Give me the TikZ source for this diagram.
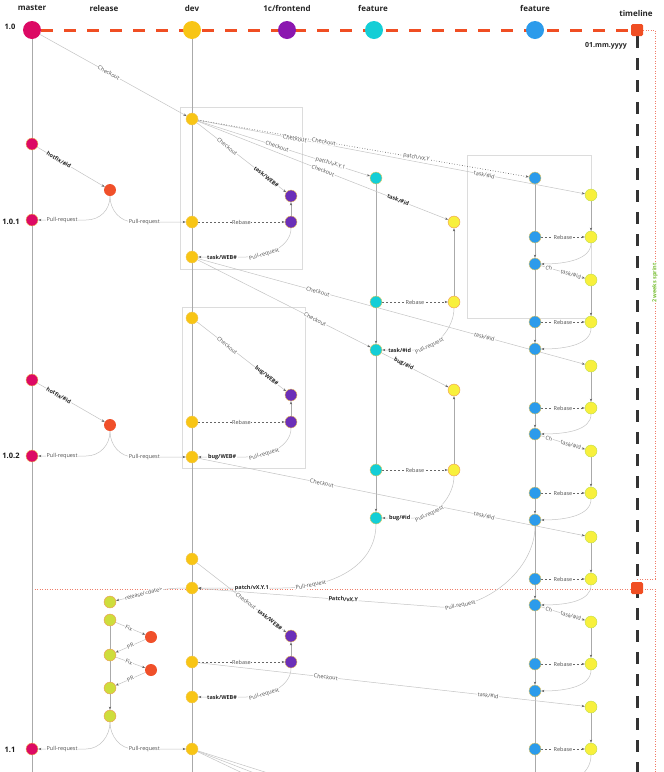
\documentclass[tikz,border=0pt]{standalone}
\usepackage{fontspec}
\setmainfont{Open Sans}
\usetikzlibrary{arrows.meta}
\pgfdeclarelayer{bg}
\pgfsetlayers{bg,main}
\definecolor{cmaster}{RGB}{220,10,100}
\definecolor{cdev}{RGB}{248,197,21}
\definecolor{cfront}{RGB}{139,23,176}
\definecolor{cpurple}{RGB}{107,47,184}
\definecolor{ccyan}{RGB}{20,206,214}
\definecolor{cblue}{RGB}{44,155,235}
\definecolor{cyel}{RGB}{248,240,60}
\definecolor{crel}{RGB}{240,80,42}
\definecolor{clime}{RGB}{206,221,60}
\definecolor{csq}{RGB}{240,78,35}
\definecolor{cline}{RGB}{195,195,195}
\definecolor{cvert}{RGB}{170,170,170}
\definecolor{ctxt}{RGB}{80,80,80}
\definecolor{cpink}{RGB}{240,125,105}
\definecolor{cgreen}{RGB}{120,190,50}
\definecolor{cbord}{RGB}{240,200,90}
\definecolor{cborl}{RGB}{190,220,80}
\definecolor{cboro}{RGB}{240,150,90}
\definecolor{cbox}{RGB}{220,220,220}
\begin{document}
\begin{tikzpicture}[x=1pt,y=-1pt,
  bignode/.style={circle,minimum size=18pt,inner sep=0pt},
  commit/.style={circle,minimum size=12pt,inner sep=0pt,line width=0.4pt,draw=cbord},
  sqnode/.style={rectangle,rounded corners=1.5pt,minimum size=12pt,inner sep=0pt,fill=csq},
  hdr/.style={font=\bfseries\fontsize{8}{9}\selectfont,text=black!85},
  vertxt/.style={font=\bfseries\fontsize{7.5}{9}\selectfont,text=black!90},
  lbl/.style={font=\fontsize{5.5}{6}\selectfont,text=ctxt,fill=white,inner sep=0.6pt,sloped},
  blbl/.style={lbl,font=\bfseries\fontsize{5.5}{6}\selectfont,text=black!85},
  ln/.style={draw=cline,line width=0.5pt},
  ar/.style={-{Stealth[length=3.2pt,width=2.4pt,color=black!60]}},
  vl/.style={draw=cvert,line width=0.6pt},
  reb/.style={draw=black!60,line width=0.5pt,dash pattern=on 2pt off 2pt,ar},
  boxc/.style={draw=cbox,line width=0.7pt},
  pinkdot/.style={draw=cpink,line width=0.7pt,dash pattern=on 1pt off 1.5pt},
]
\useasboundingbox (0,0) rectangle (664,772);

% headers
\node[hdr] (hm) at (32,8) {master};
\node[hdr] (hr) at (104,8) {release};
\node[hdr] (hd) at (192,8) {dev};
\node[hdr] (hf) at (287,8) {1c/frontend};
\node[hdr] (hc) at (373,8) {feature};
\node[hdr] (hb) at (535,8) {feature};
\node[hdr] (ht) at (636,13) {timeline};
\node[vertxt] (v0) at (10,27) {1.0};
\node[vertxt] (v1) at (11,222) {1.0.1};
\node[vertxt] (v2) at (11,456) {1.0.2};
\node[vertxt] (v3) at (10,750) {1.1};
\node[hdr,font=\bfseries\fontsize{7}{8}\selectfont] (dt) at (606,46) {01.mm.yyyy};
\node[rotate=90,font=\bfseries\fontsize{5.5}{6}\selectfont,text=cgreen,fill=white,inner sep=0.5pt] (sp) at (655,283) {2 weeks sprint};

% top nodes
\node[bignode,fill=cmaster] (M0) at (32,30) {};
\node[bignode,fill=cdev] (D0) at (192,30) {};
\node[bignode,fill=cfront] (F0) at (287,30) {};
\node[bignode,fill=ccyan] (C0) at (374,30) {};
\node[bignode,fill=cblue] (B0) at (535,30) {};
\node[sqnode] (T0) at (637,30) {};
\node[sqnode] (T1) at (637,588) {};

\foreach \n/\y in {M1/144,M2/220,M3/380,M4/456,M5/749}
  \node[commit,fill=cmaster] (\n) at (32,\y) {};
\foreach \n/\y in {D1/119,D2/222,D3/257,D4/318,D5/422,D6/457,D7/559,D8/588,D9/662,D10/697,D11/749}
  \node[commit,fill=cdev] (\n) at (192,\y) {};
\node[commit,fill=crel,draw=none] (R1) at (110,190) {};
\node[commit,fill=crel,draw=none] (R2) at (110,425) {};
\foreach \n/\y in {L1/602,L2/620,L3/655,L4/688,L5/716}
  \node[commit,fill=clime,draw=cboro] (\n) at (110,\y) {};
\node[commit,fill=crel,draw=none] (X1) at (151,637) {};
\node[commit,fill=crel,draw=none] (X2) at (151,670) {};
\foreach \n/\y in {P1/196,P2/222,P3/395,P4/422,P5/636,P6/662}
  \node[commit,fill=cpurple] (\n) at (291,\y) {};
\foreach \n/\y in {C1/178,C2/302,C3/350,C4/470,C5/518}
  \node[commit,fill=ccyan] (\n) at (376,\y) {};
\foreach \n/\y in {Y1/222,Y2/302,Y3/390,Y4/470}
  \node[commit,fill=cyel,draw=cboro] (\n) at (454,\y) {};
\foreach \n/\y in {B1/178,B2/237,B3/264,B4/322,B5/349,B6/408,B7/434,B8/493,B9/520,B10/579,B11/605,B12/664,B13/691,B14/749}
  \node[commit,fill=cblue] (\n) at (535,\y) {};
\foreach \n/\y in {Z1/195,Z2/237,Z3/280,Z4/322,Z5/366,Z6/408,Z7/451,Z8/493,Z9/537,Z10/579,Z11/622,Z12/664,Z13/707,Z14/749}
  \node[commit,fill=cyel,draw=cborl] (\n) at (591,\y) {};

\begin{pgfonlayer}{bg}
% boxes
\draw[boxc] (180,107) rectangle (302,269);
\draw[boxc] (182,307) rectangle (305,468);
\draw[boxc] (467,155) rectangle (591,318);
% sprint frames
\draw[pinkdot] (T0.east) -- (655,30) -- (655,579) -- (637,579);
\draw[pinkdot] (32,589) -- (655,589) -- (655,772);
% top and timeline
\draw[csq,line width=3pt,dash pattern=on 12pt off 11pt] (M0) -- (T0);
\draw[black!80,line width=3pt,dash pattern=on 12pt off 10pt] (T0) -- (637,772);
% verticals
\draw[vl] (M0) -- (32,772);
\draw[vl] (D0) -- (192,772);
\draw[vl] (C1) -- (C2);
\draw[vl,ar] (C2) -- (C3);
\draw[vl] (C3) -- (C4);
\draw[vl,ar] (C4) -- (C5);
\draw[vl,ar] (Y2) -- (Y1);
\draw[vl,ar] (Y4) -- (Y3);
\draw[vl,ar] (P2) -- (P1);
\draw[vl,ar] (P4) -- (P3);
\draw[vl,ar] (P6) -- (P5);
\draw[vl] (L2) -- (L3);
\draw[vl] (L3) -- (L4);
\draw[vl,ar] (L4) -- (L5);
\draw[vl] (B1) -- (B2);
\foreach \a/\b in {B3/B4,B5/B6,B7/B8,B9/B10,B11/B12,B13/B14}
  \draw[vl] (\a) -- (\b);
\foreach \a/\b in {B2/B3,B4/B5,B6/B7,B8/B9,B10/B11,B12/B13}
  \draw[vl,ar] (\a) -- (\b);
\draw[vl] (B14) -- (535,772);
\foreach \a/\b in {Z1/Z2,Z3/Z4,Z5/Z6,Z7/Z8,Z9/Z10,Z11/Z12,Z13/Z14}
  \draw[vl,ar] (\a) -- (\b);

% checkouts from dev 1
\draw[ln,ar] (M0) -- node[lbl,pos=0.47]{Checkout} (D1);
\draw[ln,ar] (D1) -- node[lbl,pos=0.34]{Checkout} node[blbl,pos=0.78]{task/WEB\#} (P1);
\draw[ln,ar] (D1) -- node[lbl,pos=0.46]{Checkout} node[lbl,pos=0.77]{patch/vX.Y.1} (C1);
\draw[ln,ar] (D1) -- node[lbl,pos=0.5]{Checkout} node[blbl,pos=0.8]{task/\#id} (Y1);
\draw[ln,ar] (D1) -- node[lbl,pos=0.25]{Checkout} node[lbl,pos=0.74]{task/\#id} (Z1);
\draw[black!75,line width=0.6pt,dotted,ar] (D1) -- node[lbl,pos=0.38]{Checkout} node[lbl,pos=0.66]{patch/vX.Y} (B1);

% frontend task 1
\draw[reb] (D2) -- node[lbl]{Rebase} (P2);
\draw[ln,ar] (P2) .. controls +(0,24) and +(22,0) .. node[lbl,pos=0.72]{Pull-request} (246,257) -- node[blbl,pos=0.5]{task/WEB\#} (D3);

% hotfix 1
\draw[ln,ar] (M1) -- node[blbl,pos=0.32]{hotfix/\#id} (R1);
\draw[ln,ar] (R1) .. controls +(0,20) and +(14,0) .. (86,220) -- node[lbl]{Pull-request} (M2);
\draw[ln,ar] (R1) .. controls +(0,20) and +(-14,0) .. (134,222) -- node[lbl,pos=0.2]{Pull-request} (D2);

% checkouts from dev 3
\draw[ln,ar] (D3) -- node[lbl,pos=0.31]{Checkout} node[lbl,pos=0.74]{task/\#id} (Z5);
\draw[ln,ar] (D3) -- node[lbl,pos=0.68]{Checkout} (C3);
\draw[reb] (C2) -- node[lbl]{Rebase} (Y2);
\draw[ln,ar] (Y2) .. controls +(0,26) and +(22,0) .. node[lbl,pos=0.75]{Pull-request} (414,350) -- node[blbl,pos=0.45]{task/\#id} (C3);
\draw[ln,ar] (C3) -- node[blbl,pos=0.33]{bug/\#id} (Y3);

% frontend bug
\draw[ln,ar] (D4) -- node[lbl,pos=0.34]{Checkout} node[blbl,pos=0.78]{bug/WEB\#} (P3);
\draw[reb] (D5) -- node[lbl]{Rebase} (P4);
\draw[ln,ar] (P4) .. controls +(0,24) and +(22,0) .. node[lbl,pos=0.72]{Pull-request} (246,457) -- node[blbl,pos=0.5]{bug/WEB\#} (D6);

% hotfix 2
\draw[ln,ar] (M3) -- node[blbl,pos=0.32]{hotfix/\#id} (R2);
\draw[ln,ar] (R2) .. controls +(0,20) and +(14,0) .. (86,456) -- node[lbl]{Pull-request} (M4);
\draw[ln,ar] (R2) .. controls +(0,20) and +(-14,0) .. (134,457) -- node[lbl,pos=0.2]{Pull-request} (D6);

% checkout from dev 6
\draw[ln,ar] (D6) -- node[lbl,pos=0.32]{Checkout} node[lbl,pos=0.74]{task/\#id} (Z9);
\draw[reb] (C4) -- node[lbl]{Rebase} (Y4);
\draw[ln,ar] (Y4) .. controls +(0,26) and +(22,0) .. node[lbl,pos=0.75]{Pull-request} (414,518) -- node[blbl,pos=0.45]{bug/\#id} (C5);

% patches into dev
\draw[ln,ar] (C5) .. controls +(0,48) and +(50,0) .. node[lbl,pos=0.8]{Pull-request} (282,588) -- node[blbl,pos=0.36]{patch/vX.Y.1} (D8);
\draw[ln,ar] (B9) .. controls +(0,50) and +(45,3) .. node[lbl,pos=0.85]{Pull-request} (440,607) -- node[blbl,pos=0.4]{patch/vX.Y} (D8);

% frontend task 2
\draw[ln,ar] (D7) -- node[lbl,pos=0.55]{Checkout} node[blbl,pos=0.82]{task/WEB\#} (P5);
\draw[reb] (D9) -- node[lbl]{Rebase} (P6);
\draw[ln,ar] (P6) .. controls +(0,24) and +(22,0) .. node[lbl,pos=0.72]{Pull-request} (246,697) -- node[blbl,pos=0.5]{task/WEB\#} (D10);
\draw[ln,ar] (D9) -- node[lbl,pos=0.33]{Checkout} node[lbl,pos=0.75]{task/\#id} (Z13);

% release
\draw[ln,ar] (D8) .. controls +(-35,0) and +(35,-8) .. node[lbl,pos=0.62]{release/<date>} (L1);
\draw[ln,ar] (L2) -- node[lbl,pos=0.45]{Fix} (X1);
\draw[ln,ar] (X1) -- node[lbl,pos=0.5]{PR} (L3);
\draw[ln,ar] (L3) -- node[lbl,pos=0.45]{Fix} (X2);
\draw[ln,ar] (X2) -- node[lbl,pos=0.5]{PR} (L4);
\draw[ln,ar] (L5) .. controls +(0,20) and +(14,0) .. (86,749) -- node[lbl]{Pull-request} (M5);
\draw[ln,ar] (L5) .. controls +(0,20) and +(-14,0) .. (134,749) -- node[lbl,pos=0.2]{Pull-request} (D11);

% blue feature cycles
\foreach \b/\z in {B2/Z2,B4/Z4,B6/Z6,B8/Z8,B10/Z10,B12/Z12,B14/Z14}
  \draw[reb] (\b) -- node[lbl]{Rebase} (\z);
\foreach \z/\b in {Z2/B3,Z4/B5,Z6/B7,Z8/B9,Z10/B11,Z12/B13}
  \draw[ln,ar] (\z) .. controls +(0,22) and +(32,0) .. (\b);
\foreach \b/\z in {B3/Z3,B7/Z7,B11/Z11}
  \draw[ln,ar] (\b) -- node[lbl,pos=0.18]{Ch} node[lbl,pos=0.68]{task/\#id} (\z);
\draw[ln] (Z14) .. controls +(0,22) and +(32,0) .. (545,785);

% lines leaving at the bottom
\draw[ln] (D11) -- (262,776);
\draw[ln] (D11) -- (268,773);
\draw[ln] (D11) -- (255,779);
\end{pgfonlayer}
\end{tikzpicture}
\end{document}
